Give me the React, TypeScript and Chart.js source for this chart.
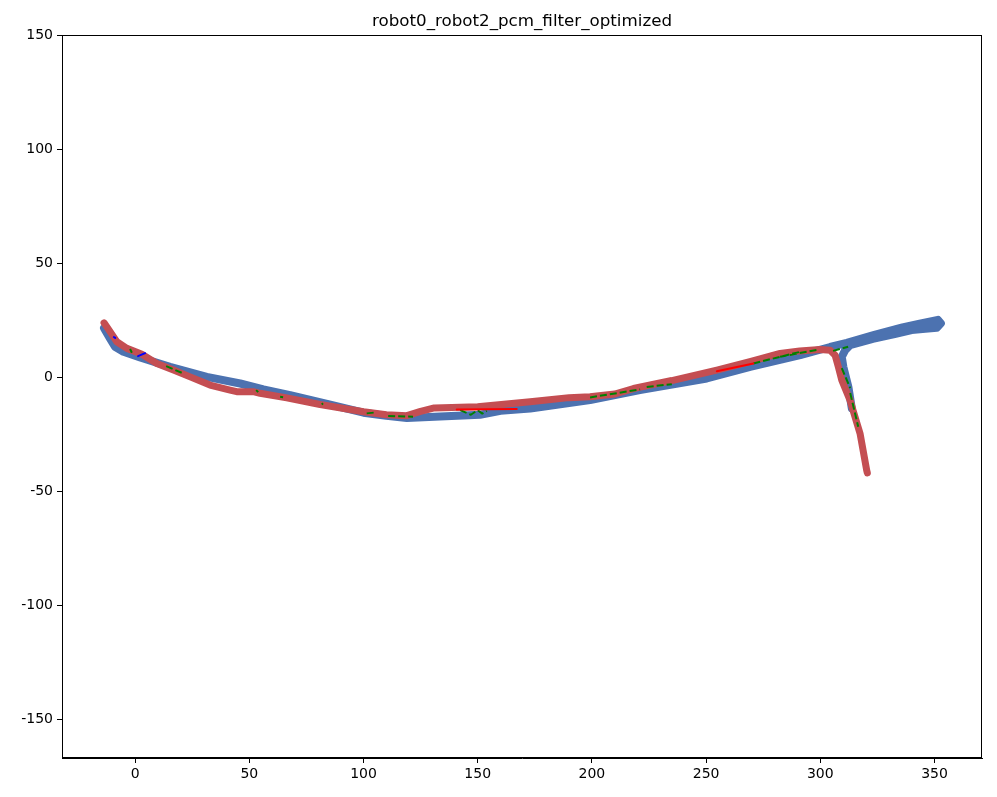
import React, { useEffect, useRef } from "react";
import { Chart, registerables } from "chart.js";
Chart.register(...registerables);

const TITLE = "robot0_robot2_pcm_filter_optimized";
const xTicks = [0, 50, 100, 150, 200, 250, 300, 350];
const yTicks = [-150, -100, -50, 0, 50, 100, 150];
const X_MIN = -32;
const X_MAX = 370.8;
const Y_MIN = -167;
const Y_MAX = 150;

// robot trajectory (blue)
const blueX = [-13.6, -11, -8.8, -5.1, 2.2, 15.3, 31.4, 46, 56.2, 67.9, 85, 100, 110, 119, 133.5, 151, 160, 173, 199.2, 221, 250.3, 269.3, 291.2, 304.3, 311.6, 323.3, 336, 343, 351.5, 352.8, 351, 346, 340, 333, 323, 313, 310.9, 309.4, 310.1, 312.3, 313.8];
const blueY = [21.4, 17, 13.3, 11.1, 8.6, 4.5, 0.1, -2.8, -5.4, -7.9, -12, -15.6, -17, -17.9, -17.3, -16.5, -14.8, -13.8, -10.1, -5.7, -0.6, 4.5, 9.6, 13.2, 15, 18.4, 21.8, 23.3, 25.1, 23.6, 21.6, 21.2, 20.6, 19, 16.8, 14, 11.8, 8.9, 4.5, -4.3, -13.7];

// robot trajectory (red)
const redX = [-13.6, -11, -8, -3.6, 3, 9.5, 16.8, 24.1, 32.8, 41.6, 44.5, 51.7, 54.7, 66.4, 81, 100, 110, 119, 125, 131, 150, 173, 190, 199.2, 210, 218.2, 235, 254.7, 270, 282.4, 291, 299.9, 304.3, 306.5, 307.9, 309.4, 313, 317.4, 320.3, 320.6];
const redY = [23.8, 20, 15.5, 12.6, 10, 6, 3.1, 0.1, -3.5, -5.7, -6.4, -6.4, -7.1, -9.1, -12, -15.2, -16.5, -16.9, -15, -13.5, -13, -10.8, -9, -8.6, -7.4, -5, -1.5, 3.1, 7, 10.4, 11.5, 12.1, 11.8, 9.6, 4.5, -1.3, -10.1, -24.7, -40.8, -42];

// inter-robot loop closures (green dashed), null = break
const greenX = [-2.2, -1.4, null, 13.6, 20.4, null, 53, 53.9, null, 63.5, 64.8, null, 81.7, 82.3, null, 101.4, 105.1, null, 110.8, 121.7, null, 142.3, 147, 150, 152, 154, null, 199.2, 221.1, null, 224, 235, null, 270.7, 291.2, null, 282.4, 299.2, null, 305.6, 312.2, null, 309.4, 313.1, null, 313.1, 316.6];
const greenY = [12.3, 10.7, null, 4.8, 1.9, null, -5.7, -6.6, null, -8.6, -8.8, null, -12, -11.5, null, -15.9, -15.5, null, -17, -17.4, null, -14.5, -16.5, -14.5, -16, -14.8, null, -8.9, -5.4, null, -4.3, -3.1, null, 6, 11.1, null, 8.9, 12.1, null, 11.5, 13.3, null, 3.9, -4.8, null, -7, -21.8];

// intra-robot closures (thin red / thin blue)
const thinRedX = [140.8, 167.1, null, 254.7, 270.7];
const thinRedY = [-14.2, -14, null, 2.6, 6];
const thinBlueX = [-9.3, -8.7, null, 1.3, 4.4];
const thinBlueY = [17.6, 17.2, null, 9.2, 10.5];

const toPts = (xs: (number | null)[], ys: (number | null)[]) =>
  xs.map((x, i) => ({ x: x === null ? NaN : x, y: ys[i] === null ? null : ys[i] }));

const framePlugin = {
  id: "frame",
  afterDraw(chart: any) {
    const { ctx, chartArea } = chart;
    ctx.save();
    ctx.strokeStyle = "#000";
    ctx.lineWidth = 1;
    ctx.strokeRect(chartArea.left + 0.5, chartArea.top + 0.5, chartArea.right - chartArea.left - 1, chartArea.bottom - chartArea.top - 1);
    ctx.fillStyle = "#000";
    ctx.font = "16.7px 'DejaVu Sans'";
    ctx.textAlign = "center";
    ctx.textBaseline = "alphabetic";
    ctx.fillText(TITLE, (chartArea.left + chartArea.right) / 2, chartArea.top - 9);
    ctx.restore();
  },
};

export default function App() {
  const ref = useRef<HTMLCanvasElement | null>(null);
  useEffect(() => {
    if (!ref.current) return;
    const line = (data: any, color: string, width: number, extra: any = {}) => ({
      data,
      showLine: true,
      borderColor: color,
      backgroundColor: color,
      borderWidth: width,
      pointRadius: 0,
      pointHoverRadius: 0,
      borderCapStyle: "round",
      borderJoinStyle: "round",
      spanGaps: false,
      tension: 0,
      ...extra,
    });
    const chart = new Chart(ref.current, {
      type: "scatter",
      data: {
        datasets: [
          line(toPts(thinBlueX, thinBlueY), "#0000ff", 2, { order: 0 }),
          line(toPts(thinRedX, thinRedY), "#ff0000", 2, { order: 1 }),
          line(toPts(greenX, greenY), "#008000", 2, { order: 2, borderDash: [7, 3], borderCapStyle: "butt" }),
          line(toPts(redX, redY), "#c44e52", 7, { order: 3 }),
          line(toPts(blueX, blueY), "#4c72b0", 8, { order: 4 }),
        ] as any,
      },
      options: {
        animation: false,
        responsive: false,
        maintainAspectRatio: false,
        layout: { padding: { top: 35, right: 15, left: 0, bottom: 0 } },
        plugins: { legend: { display: false }, tooltip: { enabled: false }, title: { display: false } },
        scales: {
          x: {
            type: "linear",
            min: X_MIN,
            max: X_MAX,
            afterBuildTicks: (s: any) => { s.ticks = xTicks.map((v) => ({ value: v })); },
            afterFit: (s: any) => { s.height = 39; },
            grid: { drawOnChartArea: false, drawTicks: true, tickLength: 5, color: "#000", lineWidth: 1 },
            border: { display: true, color: "#000", width: 1 },
            ticks: { color: "#000", font: { family: "DejaVu Sans", size: 14 }, padding: 3, maxRotation: 0 },
          },
          y: {
            type: "linear",
            min: Y_MIN,
            max: Y_MAX,
            afterBuildTicks: (s: any) => { s.ticks = yTicks.map((v) => ({ value: v })); },
            afterFit: (s: any) => { s.width = 62; },
            grid: { drawOnChartArea: false, drawTicks: true, tickLength: 5, color: "#000", lineWidth: 1 },
            border: { display: true, color: "#000", width: 1 },
            ticks: { color: "#000", font: { family: "DejaVu Sans", size: 14 }, padding: 4 },
          },
        },
      } as any,
      plugins: [framePlugin],
    });
    return () => chart.destroy();
  }, []);
  return (
    <div style={{ position: "fixed", left: 0, top: 0, width: 997, height: 797, background: "#fff" }}>
      <canvas ref={ref} width={997} height={797} style={{ width: 997, height: 797, display: "block" }} />
    </div>
  );
}
